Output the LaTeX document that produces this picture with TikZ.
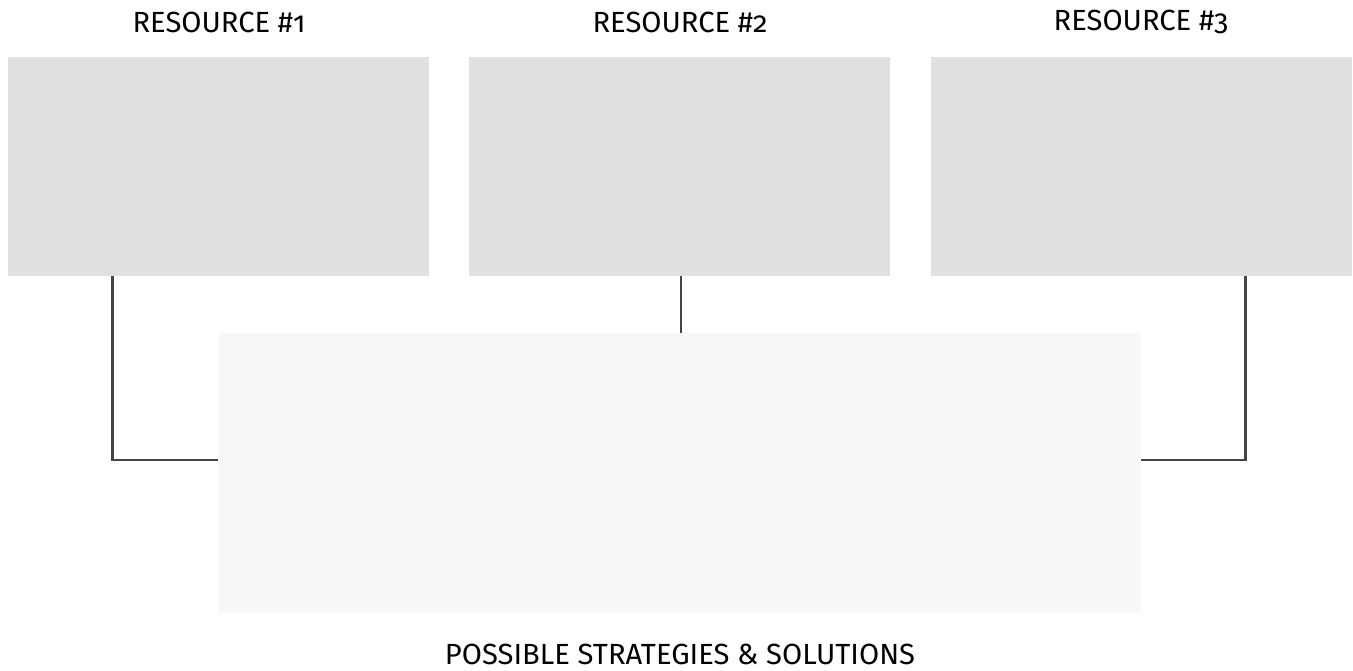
\documentclass[tikz,border=0pt]{standalone}
\usepackage{fontspec}
\setmainfont{Fira Sans}[Numbers=OldStyle]
\usetikzlibrary{calc}
\definecolor{boxgrey}{HTML}{E0E0E0}
\definecolor{palegrey}{HTML}{F8F8F8}
\definecolor{linegrey}{HTML}{444444}

\begin{document}
\begin{tikzpicture}
		[x=0.02cm, y=-0.02cm,
		every node/.style={font=\fontsize{16.6}{19}\selectfont},
		resbox/.style={fill=boxgrey, draw=none, minimum width=8.42cm, minimum height=4.38cm, inner sep=0pt},
		solbox/.style={fill=palegrey, draw=none, minimum width=18.46cm, minimum height=5.6cm, inner sep=0pt},
		link/.style={draw=linegrey, line width=1.7pt}
		]
		\useasboundingbox (0,0) rectangle (1353,671);
		\begin{scope}
			\node[resbox] (res1) at (218.5,166.5) {};
			\node[resbox] (res2) at (679.5,166.5) {};
			\node[resbox] (res3) at (1141.5,166.5) {};
			\node[solbox] (sol) at (679.5,473) {};
			\node (lab1) at (219,22) {RESOURCE \#1};
			\node (lab2) at (680,22) {RESOURCE \#2};
			\node (lab3) at (1141,22) {RESOURCE \#3};
			\node (labsol) at (680,654) {POSSIBLE STRATEGIES \& SOLUTIONS};
		\end{scope}
		\draw[link] ($(res1.south west)+(105,0)$) |- ($(sol.west)+(0,-13)$);
		\draw[link] ([xshift=0.03cm]res2.south) -- ([xshift=0.03cm]res2.south |- sol.north);
		\draw[link] ($(res3.south west)+(315,0)$) |- ($(sol.east)+(0,-13)$);
	\end{tikzpicture}
\end{document}
